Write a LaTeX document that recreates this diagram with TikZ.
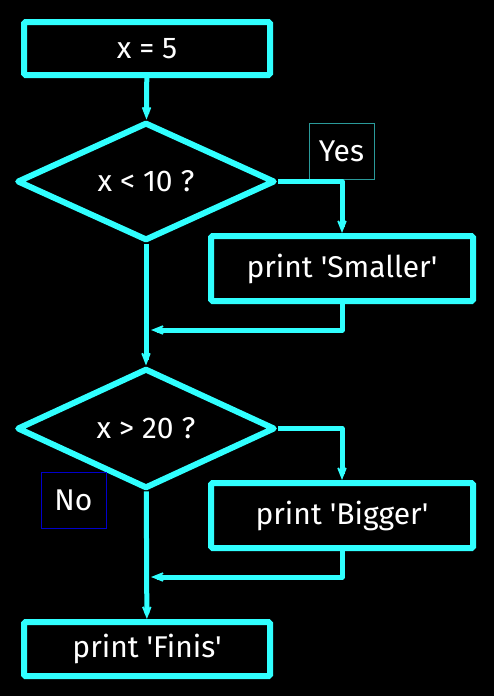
\documentclass[tikz,border=0pt]{standalone}
\usepackage{fontspec}
\setmainfont{Fira Sans}[Ligatures=TeXOff]
\usepackage{tikz}
\usetikzlibrary{arrows.meta,positioning,shapes.geometric}
\definecolor{flow}{HTML}{30FFFF}
\definecolor{yeslbl}{HTML}{2A9A9A}
\definecolor{nolbl}{HTML}{0000CC}

\begin{document}
\begin{tikzpicture}[x=1pt, y=-1pt,
  box/.style={draw=flow, line width=6pt, rounded corners=1.5pt, minimum width=262pt, minimum height=65pt, inner sep=0pt, text=white, font=\fontsize{30}{34}\selectfont},
  dec/.style={draw=flow, diamond, line width=6pt, line join=round, minimum width=258pt, minimum height=116pt, inner sep=0pt, text=white, font=\fontsize{30}{34}\selectfont},
  lbl/.style={draw, line width=0.8pt, minimum width=65pt, minimum height=56pt, inner sep=0pt, text=white, font=\fontsize{30}{34}\selectfont},
  arr/.style={-{Stealth[length=24pt, width=19pt, inset=17pt]}, draw=flow, line width=5pt, line join=round}]
\fill[black] (0,0) rectangle (494,696);
\node[box, minimum width=246pt, minimum height=53pt] (start) at (147,48.5) {x = 5};
\node[dec] (less) at (146,181.5) {x < 10 ?};
\node[box] (small) at (342,268.5) {print 'Smaller'};
\node[dec] (more) at (146,428.5) {x > 20 ?};
\node[box] (big) at (342,515.5) {print 'Bigger'};
\node[box, minimum width=246pt, minimum height=54pt] (finis) at (147,649) {print 'Finis'};
\node[lbl, draw=yeslbl] (yes) at (341.5,151) {Yes};
\node[lbl, draw=nolbl] (no) at (73.5,500) {No};
\coordinate (join1) at (151,330);
\coordinate (join2) at (151,577);
\draw[arr] (start) -- (less);
\draw[arr] (less.east) -| (small.north);
\draw[arr] (small.south) |- (join1);
\draw[arr] (less) -- (more);
\draw[arr] (more.east) -| (big.north);
\draw[arr] (big.south) |- (join2);
\draw[arr] (more) -- (finis);
\end{tikzpicture}
\end{document}
